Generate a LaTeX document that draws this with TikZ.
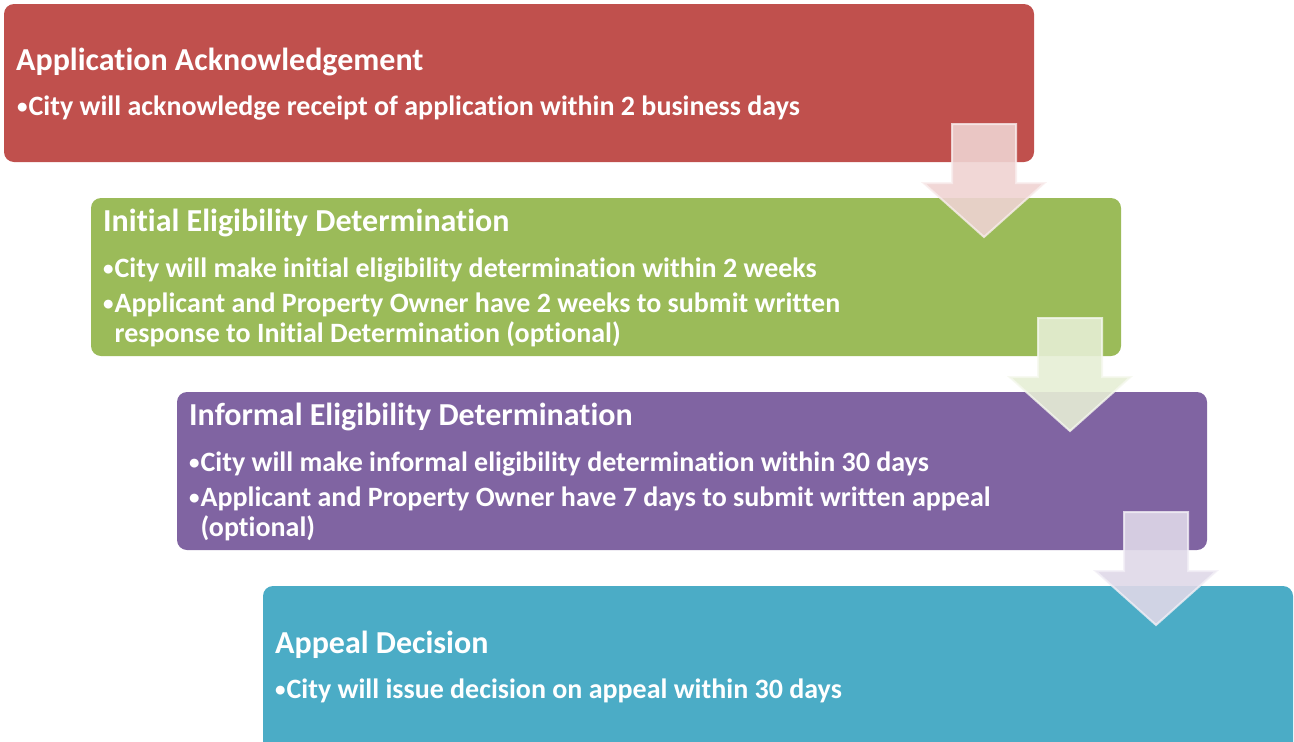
\documentclass[tikz,border=0pt]{standalone}
\usepackage{fontspec}
\setmainfont{Carlito}[Ligatures={NoCommon}]
\definecolor{cred}{HTML}{C0504D}
\definecolor{cgreen}{HTML}{9BBB59}
\definecolor{cpurple}{HTML}{8064A2}
\definecolor{cblue}{HTML}{4BACC6}
\newcommand\bul{\raisebox{2pt}{\fontsize{21}{21}\selectfont •}\kern1pt}
\tikzset{
  stagebox/.style={fill=#1, draw=none, rounded corners=10pt, shape=rectangle, inner sep=0pt},
  titletext/.style={anchor=base west, inner sep=0pt, text=white, font=\fontsize{32}{38}\selectfont\bfseries},
  bullettext/.style={anchor=base west, inner sep=0pt, text=white, font=\fontsize{28}{33}\selectfont\bfseries},
  blockarrow/.style={fill=#1!25!white, fill opacity=0.9, draw=#1!10!white, draw opacity=0.8, line width=2pt, line join=miter},
}
\newcommand\stagearrow[4]{% name, colour, centre x, top y
  \draw[blockarrow=#2] (#3-32,#4) -- (#3+32,#4) -- (#3+32,#4+59) -- (#3+60.5,#4+59)
     -- (#3,#4+113) coordinate (#1) -- (#3-60.5,#4+59) -- (#3-32,#4+59) -- cycle;}
\begin{document}
\begin{tikzpicture}[x=1pt,y=-1pt]
\useasboundingbox (0,0) rectangle (1294,742);
\clip (0,0) rectangle (1294,742);
% box 1
\node[stagebox=cred, minimum width=1030pt, minimum height=158pt] (box1) at (519,83) {};
\node[titletext] (t1) at (16,70) {Application Acknowledgement};
\node[bullettext] (b1a) at (17,115) {\bul City will acknowledge receipt of application within 2 business days};
% box 2
\node[stagebox=cgreen, minimum width=1030pt, minimum height=158pt] (box2) at (606,277) {};
\node[titletext] (t2) at (103,231) {Initial Eligibility Determination};
\node[bullettext] (b2a) at (103,277) {\bul City will make initial eligibility determination within 2 weeks};
\node[bullettext] (b2b) at (103,312) {\bul Applicant and Property Owner have 2 weeks to submit written};
\node[bullettext] (b2c) at (103,342) {\phantom{\bul}response to Initial Determination (optional)};
\stagearrow{a1}{cred}{984}{124}
% box 3
\node[stagebox=cpurple, minimum width=1030pt, minimum height=158pt] (box3) at (692,471) {};
\node[titletext] (t3) at (189,425) {Informal Eligibility Determination};
\node[bullettext] (b3a) at (189,471) {\bul City will make informal eligibility determination within 30 days};
\node[bullettext] (b3b) at (189,506) {\bul Applicant and Property Owner have 7 days to submit written appeal};
\node[bullettext] (b3c) at (189,536) {\phantom{\bul}(optional)};
\stagearrow{a2}{cgreen}{1070}{318}
% box 4
\node[stagebox=cblue, minimum width=1030pt, minimum height=170pt] (box4) at (778,671) {};
\node[titletext] (t4) at (275,653) {Appeal Decision};
\node[bullettext] (b4a) at (275,698) {\bul City will issue decision on appeal within 30 days};
\stagearrow{a3}{cpurple}{1156}{512}
\end{tikzpicture}
\end{document}
